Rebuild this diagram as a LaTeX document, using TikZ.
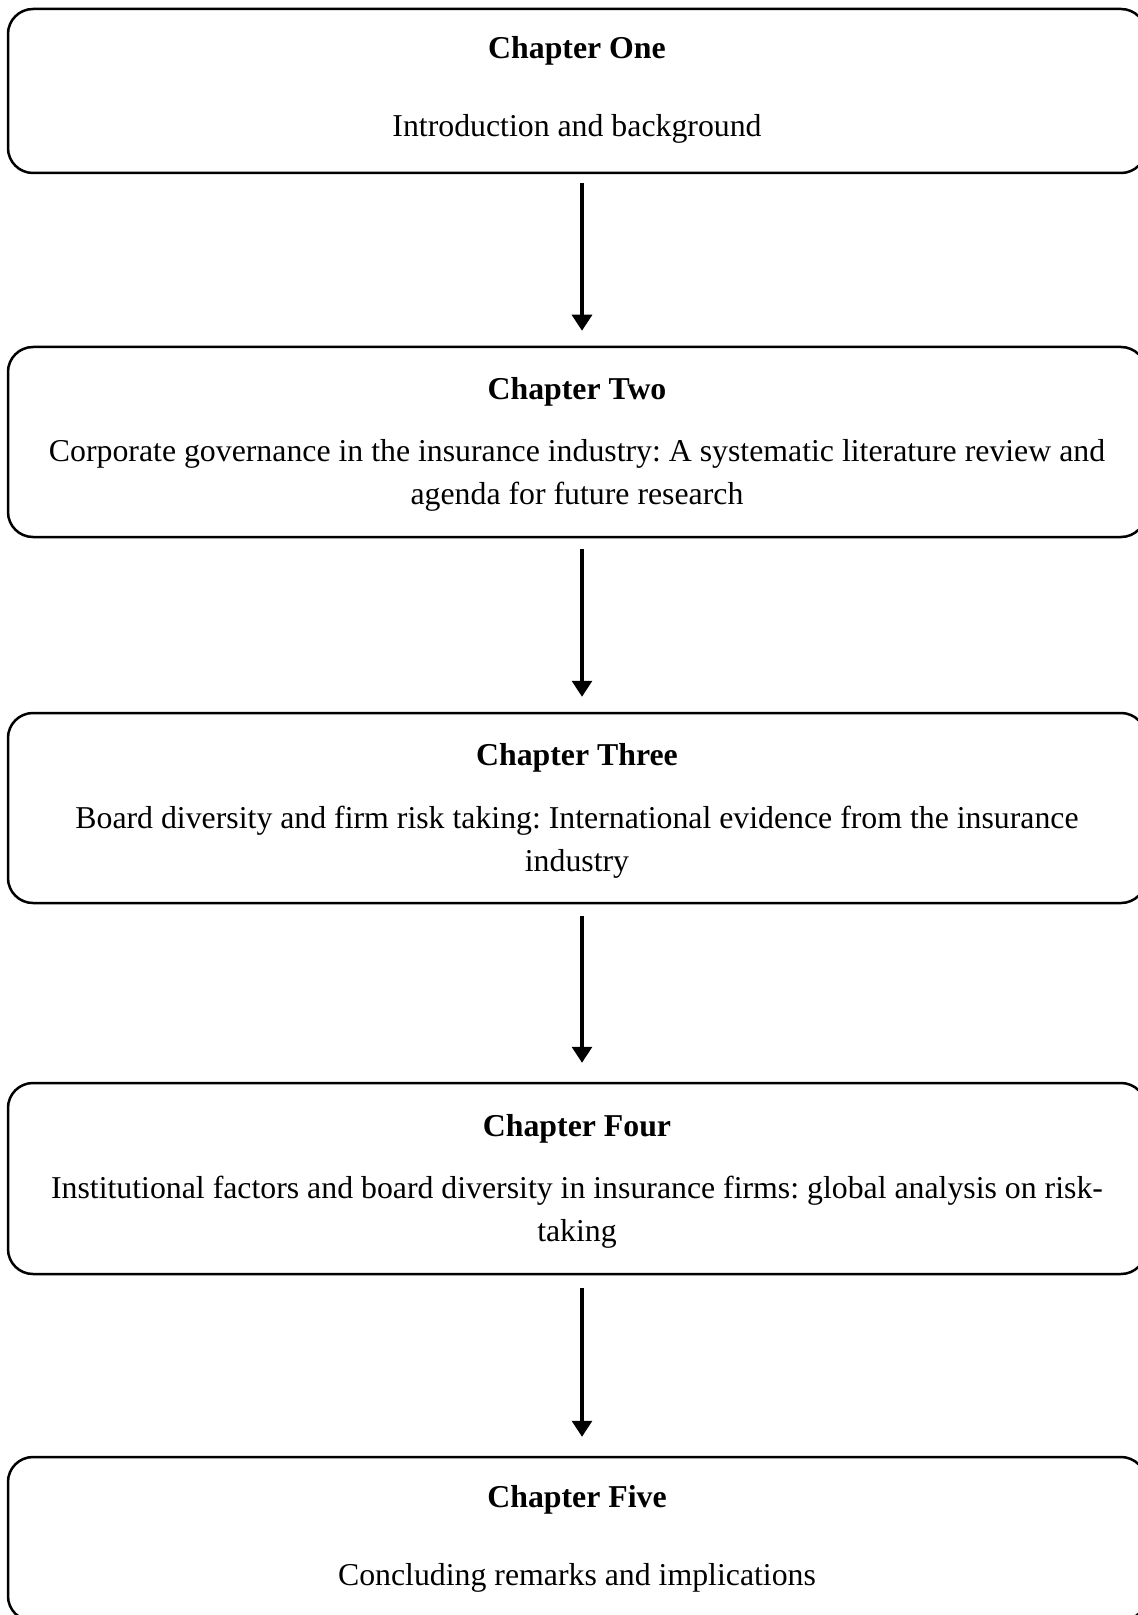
\documentclass[tikz,border=0pt]{standalone}
\usepackage{fontspec}
\setmainfont{Liberation Serif}
\usetikzlibrary{arrows.meta}
\frenchspacing
\tikzset{
  chapbox/.style={draw=black, line width=1.25pt, rounded corners=12.5pt, minimum width=569pt, inner sep=0pt},
  titletext/.style={font=\fontsize{15.9}{21.5}\selectfont\bfseries, inner sep=0pt, anchor=center},
  bodytext/.style={font=\fontsize{15.9}{21.5}\selectfont, align=center, inner sep=0pt, anchor=center},
  flowarrow/.style={line width=1.6pt, -{Triangle[width=10pt,length=8pt]}}
}
\begin{document}
\frenchspacing
\begin{tikzpicture}[x=0.5pt,y=-0.5pt]
\useasboundingbox (0,0) rectangle (1138,1615);
% boxes
\node[chapbox, minimum height=82pt] (b1) at (577,91) {};
\node[chapbox, minimum height=95pt] (b2) at (577,442) {};
\node[chapbox, minimum height=95pt] (b3) at (577,808) {};
\node[chapbox, minimum height=95.5pt] (b4) at (577,1178.5) {};
\node[chapbox, minimum height=82pt] (b5) at (577,1539) {};
% texts
\node[titletext] (t1) at (577,51) {Chapter One};
\node[bodytext] (d1) at (577,129) {Introduction and background};
\node[titletext] (t2) at (577,392) {Chapter Two};
\node[bodytext] (d2) at (577,475) {\frenchspacing Corporate governance in the insurance industry: A systematic literature review and\\agenda for future research};
\node[titletext] (t3) at (577,758) {Chapter Three};
\node[bodytext] (d3) at (577,842) {\frenchspacing Board diversity and firm risk taking: International evidence from the insurance\\industry};
\node[titletext] (t4) at (577,1129) {Chapter Four};
\node[bodytext] (d4) at (577,1212) {\frenchspacing Institutional factors and board diversity in insurance firms: global analysis on risk-\\taking};
\node[titletext] (t5) at (577,1500) {Chapter Five};
\node[bodytext] (d5) at (577,1578) {Concluding remarks and implications};
% arrows
\draw[flowarrow] ([xshift=2.5pt,yshift=-4.5pt]b1.south) -- ([xshift=2.5pt,yshift=7.5pt]b2.north);
\draw[flowarrow] ([xshift=2.5pt,yshift=-5.5pt]b2.south) -- ([xshift=2.5pt,yshift=7.5pt]b3.north);
\draw[flowarrow] ([xshift=2.5pt,yshift=-6pt]b3.south) -- ([xshift=2.5pt,yshift=9.5pt]b4.north);
\draw[flowarrow] ([xshift=2.5pt,yshift=-6.5pt]b4.south) -- ([xshift=2.5pt,yshift=9.5pt]b5.north);
\end{tikzpicture}
\end{document}
